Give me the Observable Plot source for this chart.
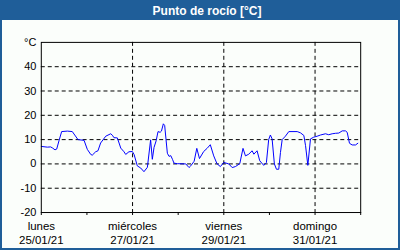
<!DOCTYPE html>
<html><head><meta charset="utf-8">
<script src="https://cdn.jsdelivr.net/npm/d3@7"></script>
<script src="https://cdn.jsdelivr.net/npm/@observablehq/plot@0.6"></script>
<style>
html,body{margin:0;padding:0;}
#wrap{position:relative;width:400px;height:250px;box-sizing:border-box;border:2px solid #1f5e99;background:#fbfefb;font-family:"Liberation Sans",Arial,sans-serif;overflow:hidden;}
#title{position:absolute;left:0;top:0;width:396px;height:18px;background:#1f5e99;color:#fff;font-weight:bold;font-size:12px;line-height:18px;text-align:center;padding-left:14px;box-sizing:border-box;}
#chart{position:absolute;left:0;top:18px;}
</style></head>
<body><div id="wrap"><div id="title">Punto de rocío [°C]</div><div id="chart"></div></div>
<script>
const startDate = Date.UTC(2021, 0, 25);
const hours = [0,3.2,4.9,5.8,7.2,8.1,9.3,10.7,13.7,16.3,19.3,22.5,24.2,26.0,26.8,28.6,29.8,31.2,33.9,36.5,37.4,38.2,40.0,41.8,43.5,44.4,46.1,47.9,48.8,50.5,52.3,54.0,55.8,57.5,58.4,59.3,60.4,61.4,62.5,63.2,64.2,64.9,66.3,67.2,68.1,69.0,69.8,71.6,76.0,77.7,78.6,80.4,81.8,83.2,85.4,87.2,88.9,90.7,92.4,94.2,96.0,98.6,100.4,102.1,104.4,106.1,107.4,109.1,110.9,111.8,113.5,114.9,117.0,118.4,119.6,120.5,121.4,122.6,123.7,124.9,125.8,126.7,128.4,130.2,134.6,136.3,138.1,139.0,140.2,141.6,143.3,145.1,146.9,149.5,151.2,153.0,154.8,156.5,158.3,160.0,160.9,162.1,163.5,165.3,166.5];
const dew = [7.2,6.9,7.0,6.6,5.8,6.1,9.5,13.3,13.5,13.3,10.0,9.7,6.0,3.9,3.6,5.0,5.4,8.6,11.4,12.4,11.8,10.8,10.7,6.5,5.0,3.9,5.0,5.1,3.9,-0.8,-1.7,-3.2,-1.4,9.9,1.9,6.8,9.5,13.3,13.0,13.5,16.5,15.8,4.4,3.1,3.4,1.9,0.3,0.1,0,-1.5,-0.8,1.1,6.4,2.2,5.1,6.4,7.9,3.3,0.1,-1.1,0.6,0,-1.5,-1.1,0.1,6.4,3.3,4.0,5.4,4.0,5.4,1.3,-0.6,0.5,10.0,11.9,10.3,0,-2.2,-2.2,4.7,10.0,11.4,13.3,13.3,12.8,11.7,7.5,-0.6,10.3,11.0,11.4,11.9,12.4,12.0,12.4,12.6,12.7,13.6,13.6,13.0,8.5,7.8,7.8,8.5];
const dayNames = ["lunes","miércoles","viernes","domingo"];
const dayLabels = ["25/01/21","27/01/21","29/01/21","31/01/21"];
const yTicks = [-20,-10,0,10,20,30,40,50];
const gridY = [-10,0,10,20,30,40];

const data = hours.map((h,i)=>({t:new Date(startDate + h*3600e3), v:dew[i]}));
const labelDates = dayNames.map((_,i)=>new Date(startDate + i*2*86400e3));
const dailyTicks = d3.range(8).map(i=>new Date(startDate + i*86400e3));
const gridDates = labelDates.slice(1);
const labelOf = new Map(labelDates.map((d,i)=>[+d, dayNames[i]+"\n"+dayLabels[i]]));

const plot = Plot.plot({
  width: 398, height: 230,
  marginLeft: 39, marginRight: 38, marginTop: 22, marginBottom: 37,
  style: {fontFamily: '"Liberation Sans", Arial, sans-serif', fontSize: "11px", background: "transparent", color: "#000"},
  x: {type: "utc", domain: [new Date(startDate), new Date(startDate + 7*86400e3)]},
  y: {domain: [-20, 50]},
  marks: [
    Plot.gridY(gridY, {stroke: "#000", strokeOpacity: 1, strokeDasharray: "4,3"}),
    Plot.gridX(gridDates, {stroke: "#000", strokeOpacity: 1, strokeDasharray: "4,3"}),
    Plot.line(data, {x: "t", y: "v", stroke: "#0000ff", strokeWidth: 1}),
    Plot.frame({stroke: "#000", strokeWidth: 1}),
    Plot.axisY(yTicks, {tickSize: 0, tickPadding: 5, tickFormat: d => d === 50 ? "°C" : String(d), label: null, fontSize: 11}),
    Plot.axisX(dailyTicks, {tickSize: 3, tickFormat: () => "", label: null}),
    Plot.axisX(labelDates, {tickSize: 0, tickPadding: 7, tickFormat: d => labelOf.get(+d), label: null, fontSize: 11.5, lineHeight: 1.25})
  ]
});
document.getElementById("chart").appendChild(plot);
</script></body></html>
